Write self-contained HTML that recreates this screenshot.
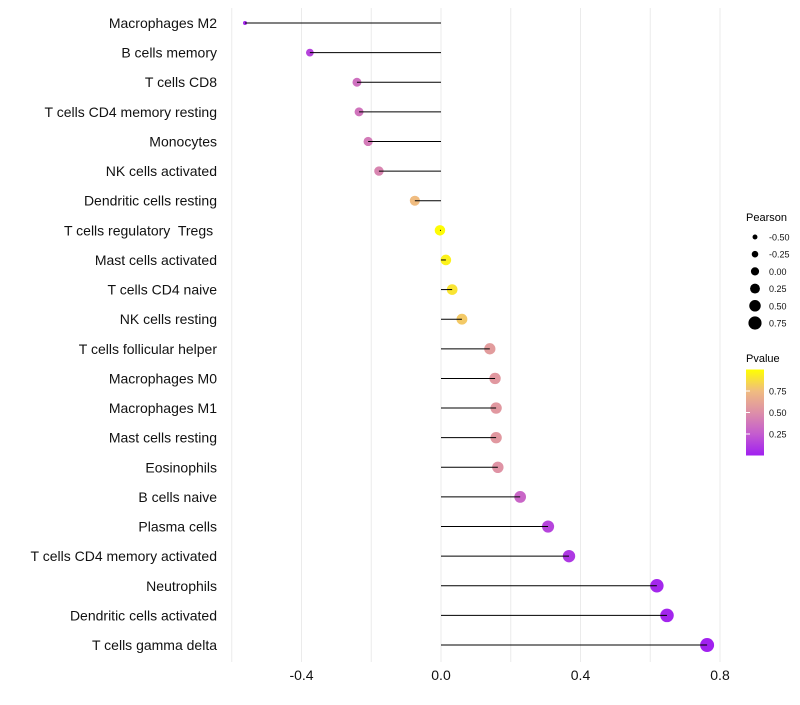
<!DOCTYPE html>
<html><head><meta charset="utf-8"><style>
body{margin:0;background:#fff;font-family:"Liberation Sans",sans-serif}
text{white-space:pre}
</style></head><body>
<svg id="chart" width="800" height="700" xmlns="http://www.w3.org/2000/svg">
<defs><linearGradient id="pg" x1="0" y1="1" x2="0" y2="0">
<stop offset="0" stop-color="#A020F0"/><stop offset="0.25" stop-color="#C45CCF"/><stop offset="0.5" stop-color="#DD8FA8"/><stop offset="0.75" stop-color="#F0BC80"/><stop offset="1" stop-color="#FFFF00"/></linearGradient></defs>
<g id="grid"></g><g id="dots"></g><g id="marks"></g><g id="labels"></g>
<g>
<text x="746" y="221" font-size="11">Pearson</text>
<g id="sizeLegend"></g>
<text x="746" y="362" font-size="11">Pvalue</text>
<rect x="746" y="369.5" width="18" height="86" fill="url(#pg)"/>
<g id="cbTicks"></g>
</g>
</svg>
<script>
const categories=["Macrophages M2","B cells memory","T cells CD8","T cells CD4 memory resting","Monocytes","NK cells activated","Dendritic cells resting","T cells regulatory  Tregs ","Mast cells activated","T cells CD4 naive","NK cells resting","T cells follicular helper","Macrophages M0","Macrophages M1","Mast cells resting","Eosinophils","B cells naive","Plasma cells","T cells CD4 memory activated","Neutrophils","Dendritic cells activated","T cells gamma delta"];
const pearson=[-0.562,-0.376,-0.241,-0.235,-0.209,-0.178,-0.075,-0.003,0.014,0.032,0.060,0.140,0.155,0.158,0.158,0.163,0.227,0.307,0.367,0.619,0.648,0.763];
const pvalue=[0.03,0.15,0.35,0.37,0.4,0.45,0.75,0.99,0.95,0.9,0.8,0.57,0.55,0.55,0.55,0.52,0.3,0.15,0.1,0.03,0.02,0.005];
const xTicks=[-0.4,0,0.4,0.8];
const xTickLabels=["-0.4","0.0","0.4","0.8"];
const gridVals=[-0.6,-0.4,-0.2,0,0.2,0.4,0.6,0.8];
const sizeLegendVals=[-0.5,-0.25,0,0.25,0.5,0.75];
const sizeLegendLabels=["-0.50","-0.25","0.00","0.25","0.50","0.75"];
const cbVals=[0.75,0.5,0.25];
const cbLabels=["0.75","0.50","0.25"];
const NS="http://www.w3.org/2000/svg";
const x=v=>441+v*348.75;
const y=i=>23+i*29.62;
const r=v=>2+5*Math.sqrt(Math.max(0,(v+0.56)/1.32));
const rl=v=>4.4+v*3.3;
const stops=[[0,[160,32,240]],[0.25,[196,92,207]],[0.5,[221,143,168]],[0.75,[240,188,128]],[1,[255,255,0]]];
function col(p){for(let k=0;k<stops.length-1;k++){const a=stops[k],b=stops[k+1];if(p<=b[0]){const t=(p-a[0])/(b[0]-a[0]);return "rgb("+a[1].map((c,j)=>Math.round(c+(b[1][j]-c)*t)).join(",")+")";}}return "rgb(255,255,0)";}
function mk(tag,attrs,parent){const e=document.createElementNS(NS,tag);for(const k in attrs)e.setAttribute(k,attrs[k]);document.getElementById(parent).appendChild(e);return e;}
gridVals.forEach(v=>{const l=mk("line",{x1:x(v),x2:x(v),y1:8,y2:662,stroke:"#ebebeb","stroke-width":1},"grid");

});
xTicks.forEach((v,i)=>{const t=mk("text",{x:x(v),y:680,"font-size":14,"text-anchor":"middle",fill:"#111"},"labels");t.textContent=xTickLabels[i];

});
categories.forEach((c,i)=>{
const d=mk("circle",{cx:x(pearson[i]),cy:y(i),r:r(pearson[i]),fill:col(pvalue[i])},"dots");


const l=mk("line",{x1:x(0),x2:x(pearson[i]),y1:y(i),y2:y(i),stroke:"#000","stroke-width":1},"marks");


const t=mk("text",{x:217,y:y(i)+5,"font-size":14,"text-anchor":"end",fill:"#111"},"labels");t.textContent=c;

});
sizeLegendVals.forEach((v,i)=>{const cy=237+i*17.2;
const d=mk("circle",{cx:755,cy:cy,r:rl(v)-0.3,fill:"#000"},"sizeLegend");


const t=mk("text",{x:769,y:cy+3.5,"font-size":9,fill:"#111"},"sizeLegend");t.textContent=sizeLegendLabels[i];

});
cbVals.forEach((v,i)=>{const cy=455.5-v*86;
const l=mk("line",{x1:746,x2:750,y1:cy,y2:cy,stroke:"#fff"},"cbTicks");


const t=mk("text",{x:769,y:cy+3.5,"font-size":9,fill:"#111"},"cbTicks");t.textContent=cbLabels[i];

});
</script>
</body></html>
